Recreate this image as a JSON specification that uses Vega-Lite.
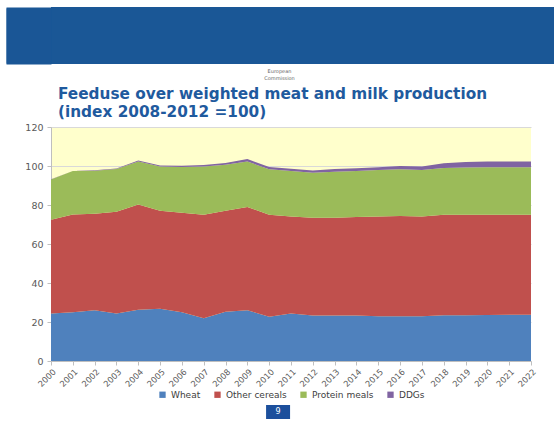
{
  "$schema": "https://vega.github.io/schema/vega-lite/v6.json",
  "padding": {"top": 7, "left": 5, "right": 5, "bottom": 4},
  "background": "white",
  "spacing": 5,
  "resolve": {"scale": {"color": "independent", "y": "independent", "x": "independent"}, "legend": {"color": "independent"}},
  "config": {"font": "DejaVu Sans", "view": {"stroke": null}, "legend": {"layout": {"bottom": {"anchor": "middle"}}}},
  "vconcat": [
    {
      "width": 503,
      "height": 57,
      "view": {"fill": "#1A5796", "stroke": null},
      "title": {"text": ["European", "Commission"], "orient": "bottom", "fontSize": 5, "lineHeight": 6.5, "color": "#666666", "fontWeight": "normal", "anchor": "middle", "offset": 5, "dx": -23},
      "data": {"values": [{"label": ""}]},
      "mark": {"type": "text"},
      "encoding": {
        "text": {"field": "label"},
        "y": {"datum": 28, "type": "quantitative", "scale": {"domain": [0, 57], "nice": false},
          "axis": {"values": [1,2,3,4,5,6,7,8,9,10,11,12,13,14,15,16,17,18,19,20,21,22,23,24,25,26,27,28,29,30,31,32,33,34,35,36,37,38,39,40,41,42,43,44,45,46,47,48,49,50,51,52,53,54,55,56], "ticks": true, "tickSize": 45, "tickWidth": 2, "tickColor": "#1A5796", "tickCap": "butt", "labels": false, "domain": false, "grid": false, "title": null, "minExtent": 46, "maxExtent": 46}}
      }
    },
    {
      "width": 480,
      "height": 234,
      "view": {"fill": "#FFFFCC", "stroke": null},
      "title": {
        "text": ["Feeduse over weighted meat and milk production", "(index 2008-2012 =100)"],
        "anchor": "start", "frame": "group", "dx": 7,
        "fontSize": 15.3, "fontWeight": "bold", "color": "#1F5A9E", "lineHeight": 18, "offset": 2
      },
      "data": {"values": [
        {"year": 2000, "series": "Wheat", "value": 24.3}, {"year": 2000, "series": "Other cereals", "value": 48.1}, {"year": 2000, "series": "Protein meals", "value": 20.7}, {"year": 2000, "series": "DDGs", "value": 0.1},
        {"year": 2001, "series": "Wheat", "value": 25.0}, {"year": 2001, "series": "Other cereals", "value": 50.1}, {"year": 2001, "series": "Protein meals", "value": 22.3}, {"year": 2001, "series": "DDGs", "value": 0.1},
        {"year": 2002, "series": "Wheat", "value": 26.0}, {"year": 2002, "series": "Other cereals", "value": 49.5}, {"year": 2002, "series": "Protein meals", "value": 22.1}, {"year": 2002, "series": "DDGs", "value": 0.2},
        {"year": 2003, "series": "Wheat", "value": 24.3}, {"year": 2003, "series": "Other cereals", "value": 52.2}, {"year": 2003, "series": "Protein meals", "value": 22.0}, {"year": 2003, "series": "DDGs", "value": 0.2},
        {"year": 2004, "series": "Wheat", "value": 26.3}, {"year": 2004, "series": "Other cereals", "value": 54.0}, {"year": 2004, "series": "Protein meals", "value": 22.0}, {"year": 2004, "series": "DDGs", "value": 0.5},
        {"year": 2005, "series": "Wheat", "value": 26.8}, {"year": 2005, "series": "Other cereals", "value": 50.2}, {"year": 2005, "series": "Protein meals", "value": 22.8}, {"year": 2005, "series": "DDGs", "value": 0.5},
        {"year": 2006, "series": "Wheat", "value": 25.0}, {"year": 2006, "series": "Other cereals", "value": 51.0}, {"year": 2006, "series": "Protein meals", "value": 23.5}, {"year": 2006, "series": "DDGs", "value": 0.6},
        {"year": 2007, "series": "Wheat", "value": 21.9}, {"year": 2007, "series": "Other cereals", "value": 53.1}, {"year": 2007, "series": "Protein meals", "value": 24.8}, {"year": 2007, "series": "DDGs", "value": 0.7},
        {"year": 2008, "series": "Wheat", "value": 25.2}, {"year": 2008, "series": "Other cereals", "value": 51.8}, {"year": 2008, "series": "Protein meals", "value": 23.7}, {"year": 2008, "series": "DDGs", "value": 0.8},
        {"year": 2009, "series": "Wheat", "value": 26.0}, {"year": 2009, "series": "Other cereals", "value": 53.0}, {"year": 2009, "series": "Protein meals", "value": 23.3}, {"year": 2009, "series": "DDGs", "value": 1.3},
        {"year": 2010, "series": "Wheat", "value": 22.7}, {"year": 2010, "series": "Other cereals", "value": 52.3}, {"year": 2010, "series": "Protein meals", "value": 23.3}, {"year": 2010, "series": "DDGs", "value": 1.2},
        {"year": 2011, "series": "Wheat", "value": 24.3}, {"year": 2011, "series": "Other cereals", "value": 49.8}, {"year": 2011, "series": "Protein meals", "value": 23.3}, {"year": 2011, "series": "DDGs", "value": 1.2},
        {"year": 2012, "series": "Wheat", "value": 23.3}, {"year": 2012, "series": "Other cereals", "value": 50.1}, {"year": 2012, "series": "Protein meals", "value": 23.1}, {"year": 2012, "series": "DDGs", "value": 1.2},
        {"year": 2013, "series": "Wheat", "value": 23.3}, {"year": 2013, "series": "Other cereals", "value": 50.2}, {"year": 2013, "series": "Protein meals", "value": 23.6}, {"year": 2013, "series": "DDGs", "value": 1.3},
        {"year": 2014, "series": "Wheat", "value": 23.3}, {"year": 2014, "series": "Other cereals", "value": 50.6}, {"year": 2014, "series": "Protein meals", "value": 23.5}, {"year": 2014, "series": "DDGs", "value": 1.4},
        {"year": 2015, "series": "Wheat", "value": 23.0}, {"year": 2015, "series": "Other cereals", "value": 51.1}, {"year": 2015, "series": "Protein meals", "value": 23.8}, {"year": 2015, "series": "DDGs", "value": 1.5},
        {"year": 2016, "series": "Wheat", "value": 23.0}, {"year": 2016, "series": "Other cereals", "value": 51.3}, {"year": 2016, "series": "Protein meals", "value": 24.0}, {"year": 2016, "series": "DDGs", "value": 1.7},
        {"year": 2017, "series": "Wheat", "value": 23.0}, {"year": 2017, "series": "Other cereals", "value": 51.1}, {"year": 2017, "series": "Protein meals", "value": 23.8}, {"year": 2017, "series": "DDGs", "value": 1.9},
        {"year": 2018, "series": "Wheat", "value": 23.5}, {"year": 2018, "series": "Other cereals", "value": 51.5}, {"year": 2018, "series": "Protein meals", "value": 24.0}, {"year": 2018, "series": "DDGs", "value": 2.4},
        {"year": 2019, "series": "Wheat", "value": 23.5}, {"year": 2019, "series": "Other cereals", "value": 51.5}, {"year": 2019, "series": "Protein meals", "value": 24.2}, {"year": 2019, "series": "DDGs", "value": 2.8},
        {"year": 2020, "series": "Wheat", "value": 23.6}, {"year": 2020, "series": "Other cereals", "value": 51.4}, {"year": 2020, "series": "Protein meals", "value": 24.3}, {"year": 2020, "series": "DDGs", "value": 3.0},
        {"year": 2021, "series": "Wheat", "value": 23.7}, {"year": 2021, "series": "Other cereals", "value": 51.3}, {"year": 2021, "series": "Protein meals", "value": 24.3}, {"year": 2021, "series": "DDGs", "value": 3.0},
        {"year": 2022, "series": "Wheat", "value": 23.7}, {"year": 2022, "series": "Other cereals", "value": 51.3}, {"year": 2022, "series": "Protein meals", "value": 24.3}, {"year": 2022, "series": "DDGs", "value": 3.0}
      ]},
      "transform": [
        {"lookup": "series", "from": {"data": {"values": [
          {"series": "Wheat", "stackRank": 1},
          {"series": "Other cereals", "stackRank": 2},
          {"series": "Protein meals", "stackRank": 3},
          {"series": "DDGs", "stackRank": 4}
        ]}, "key": "series", "fields": ["stackRank"]}}
      ],
      "mark": {"type": "area"},
      "encoding": {
        "x": {
          "field": "year", "type": "ordinal", "scale": {"padding": 0},
          "axis": {"title": null, "labelAngle": -45, "labelFontSize": 8.3, "labelColor": "#595959", "tickColor": "#bfbfbf", "tickSize": 4, "domainColor": "#bfbfbf", "grid": false, "labelPadding": 2}
        },
        "y": {
          "field": "value", "type": "quantitative", "stack": "zero",
          "scale": {"domain": [0, 120], "nice": false},
          "axis": {"title": null, "values": [0, 20, 40, 60, 80, 100, 120], "labelFontSize": 9.5, "labelColor": "#595959", "tickColor": "#bfbfbf", "tickSize": 4, "domainColor": "#bfbfbf", "gridColor": "#d9d9d9", "labelPadding": 4, "minExtent": 46, "maxExtent": 46}
        },
        "order": {"field": "stackRank", "type": "quantitative", "sort": "ascending"},
        "color": {
          "field": "series", "type": "nominal",
          "sort": ["Wheat", "Other cereals", "Protein meals", "DDGs"],
          "scale": {"domain": ["Wheat", "Other cereals", "Protein meals", "DDGs"], "range": ["#4F81BD", "#C0504D", "#9BBB59", "#8064A2"]},
          "legend": {"orient": "bottom", "direction": "horizontal", "title": null, "symbolType": "square", "symbolSize": 40, "symbolStrokeWidth": 0, "labelFontSize": 9, "labelColor": "#404040", "columnPadding": 12, "offset": 2}
        }
      }
    },
    {
      "width": 503,
      "height": 14,
      "data": {"values": [{"page": "9"}]},
      "layer": [
        {
          "mark": {"type": "rect", "color": "#1C4F9C"},
          "encoding": {"x": {"field": "page", "type": "nominal", "axis": null, "scale": {"paddingInner": 0.8998, "paddingOuter": 1, "align": 0.449}}}
        },
        {
          "mark": {"type": "text", "color": "white", "fontSize": 8},
          "encoding": {"x": {"field": "page", "type": "nominal", "axis": null}, "text": {"field": "page"}}
        }
      ]
    }
  ]
}
